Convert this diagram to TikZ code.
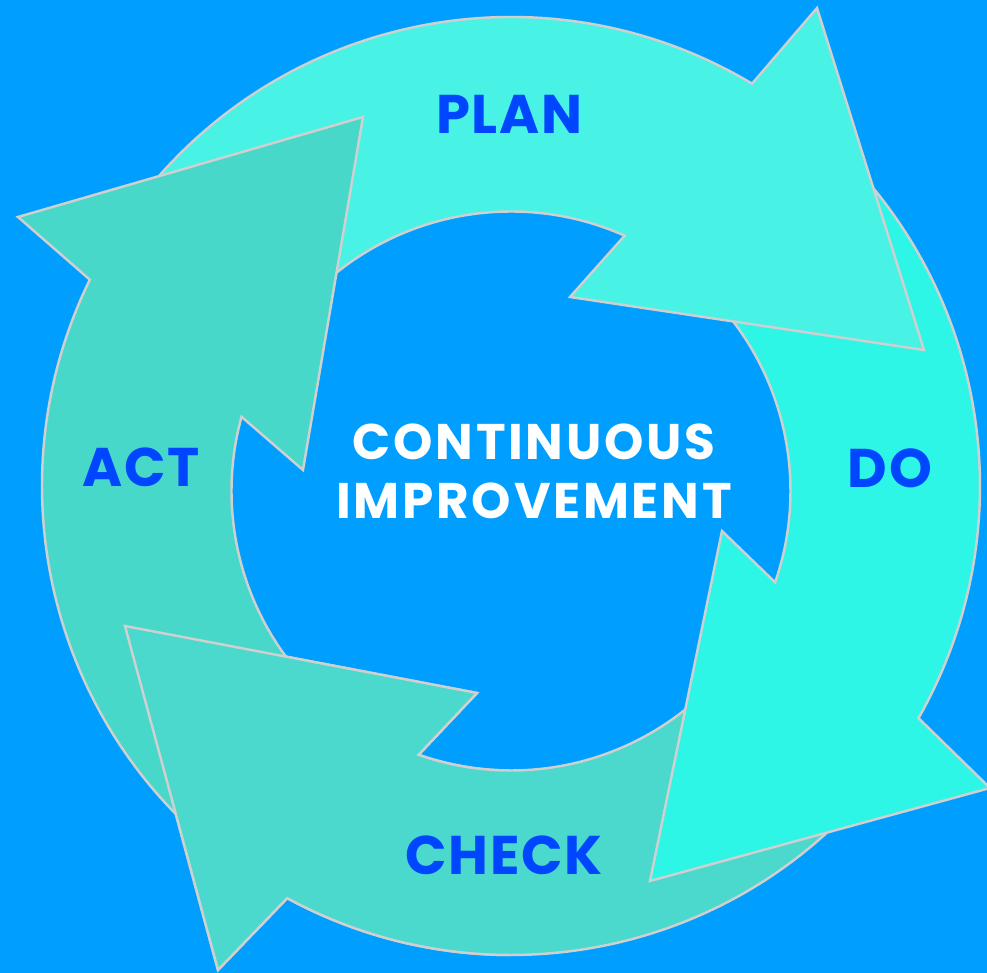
\documentclass[tikz,border=0pt]{standalone}
\usepackage{fontspec}
\usetikzlibrary{calc}
\newfontfamily\popfont{Poppins}[LetterSpace=3]
\newfontfamily\popwide{Poppins}[LetterSpace=5.5]
\definecolor{bgblue}{RGB}{0,159,255}
\definecolor{plancol}{RGB}{72,242,228}
\definecolor{docol}{RGB}{46,246,230}
\definecolor{checkcol}{RGB}{74,217,204}
\definecolor{actcol}{RGB}{72,216,202}
\definecolor{rimgray}{RGB}{208,208,208}
\definecolor{labelblue}{RGB}{0,70,255}

\begin{document}
\begin{tikzpicture}[x=0.02cm,y=0.02cm,
  piece/.style={draw=rimgray,line width=1.4pt,line join=miter},
  steplabel/.style={text=labelblue,inner sep=0pt,font=\popfont\bfseries\fontsize{31}{31}\selectfont}]

\useasboundingbox (-511,486) rectangle (476,-487);
\fill[bgblue] (-511,486) rectangle (476,-487);
\coordinate (ci) at (0,-5);

% check, do, plan, act
\filldraw[piece,fill=checkcol] (-44:469) arc[start angle=-44,end angle=-118.5,radius=469] -- (-293,-484) -- (-386,-140) -- (-34,-207) -- ($(ci)+(-109.3:279.5)$) arc[start angle=-109.3,end angle=-44,radius=279.5] -- cycle;
\filldraw[piece,fill=docol] (42:469) arc[start angle=42,end angle=-29.67,radius=469] -- (479,-302) -- (139,-395) -- (211,-45) -- ($(ci)+(-19.08:279.5)$) arc[start angle=-19.08,end angle=42,radius=279.5] -- cycle;
\filldraw[piece,fill=plancol] (142:469) arc[start angle=142,end angle=59.07,radius=469] -- (306,478) -- (413,136) -- (59,189) -- ($(ci)+(66:279.5)$) arc[start angle=66,end angle=133,radius=279.5] -- cycle;
\filldraw[piece,fill=actcol] (228:469) arc[start angle=228,end angle=153.9,radius=469] -- (-493,269) -- (-148,369) -- (-208,16) -- ($(ci)+(164.6:279.5)$) arc[start angle=164.6,end angle=228,radius=279.5] -- cycle;

% check head lies over the act tail
\begin{scope}
\clip (-520,0) rectangle (0,-500);
\filldraw[piece,fill=checkcol] (-44:469) arc[start angle=-44,end angle=-118.5,radius=469] -- (-293,-484) -- (-386,-140) -- (-34,-207) -- ($(ci)+(-109.3:279.5)$) arc[start angle=-109.3,end angle=-44,radius=279.5] -- cycle;
\end{scope}

\node[steplabel] (plan) at (-2,372) {PLAN};
\node[steplabel] (do) at (379,18) {DO};
\node[steplabel] (check) at (-7,-369) {CHECK};
\node[steplabel] (act) at (-370,19) {ACT};
\node[text=white,inner sep=0pt,align=center,font=\popwide\bfseries\fontsize{28.5}{33.5}\selectfont] (ci-text) at (23,15) {CONTINUOUS\\IMPROVEMENT};

\end{tikzpicture}
\end{document}
